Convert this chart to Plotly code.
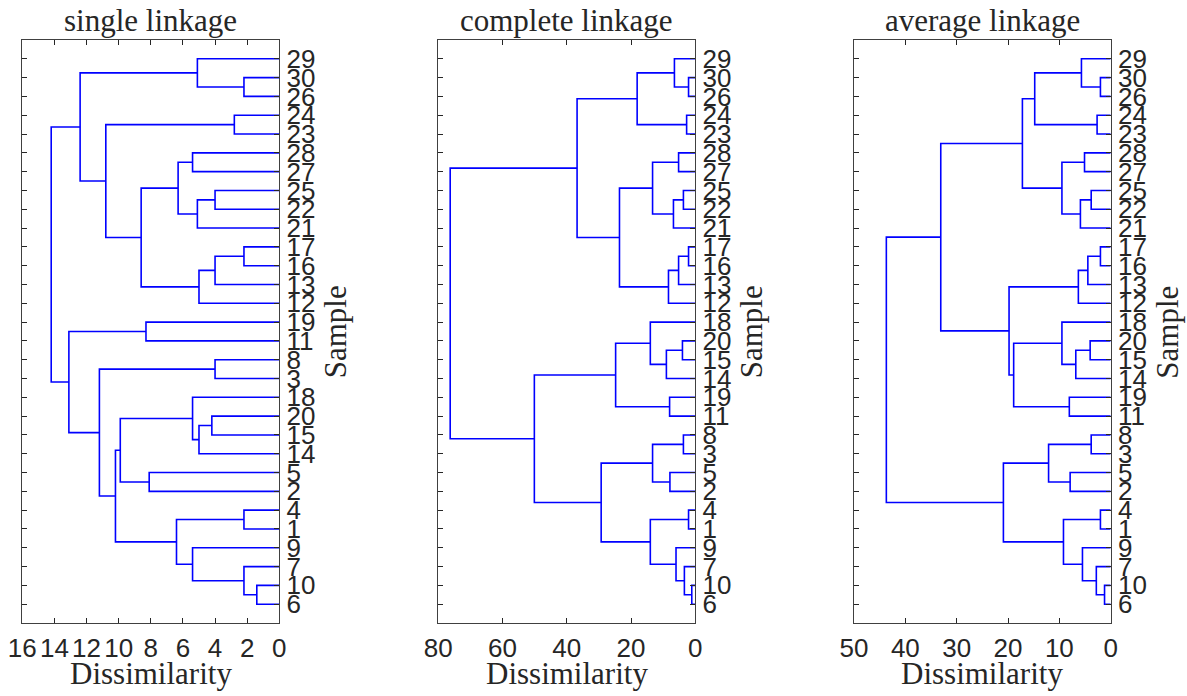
import plotly.graph_objects as go

# ---------------- data ----------------
# Linkage rows (MATLAB convention): ids 1..30 are samples, id 30+r is the cluster formed in row r
single_left = [10, 30, 17, 4, 7, 24, 25, 33, 8, 20, 40, 38, 37, 29, 28, 18, 9, 45, 34, 5, 19, 48, 46, 53, 36, 39, 44, 51, 57]
single_right = [6, 26, 16, 1, 31, 23, 22, 13, 3, 15, 14, 12, 21, 32, 27, 41, 35, 43, 47, 2, 11, 42, 50, 49, 52, 54, 55, 56, 58]
single_height = [1.4, 2.2, 2.2, 2.2, 2.2, 2.8, 4.0, 4.0, 4.0, 4.2, 5.0, 5.0, 5.1, 5.1, 5.4, 5.4, 5.4, 6.3, 6.4, 8.1, 8.3, 8.6, 9.9, 10.2, 10.8, 11.2, 12.4, 13.1, 14.2]
single_order = [29, 30, 26, 24, 23, 28, 27, 25, 22, 21, 17, 16, 13, 12, 19, 11, 8, 3, 18, 20, 15, 14, 5, 2, 4, 1, 9, 7, 10, 6]

complete_left = [10, 30, 17, 4, 24, 7, 25, 8, 20, 28, 33, 9, 29, 37, 5, 19, 41, 39, 40, 38, 18, 34, 43, 49, 51, 50, 53, 55, 57]
complete_right = [6, 26, 16, 1, 23, 31, 22, 3, 15, 27, 13, 36, 32, 21, 2, 11, 12, 14, 44, 45, 48, 42, 35, 47, 46, 52, 54, 56, 58]
complete_height = [1.1, 2.1, 2.1, 2.1, 2.7, 3.4, 3.7, 3.7, 4.0, 5.2, 5.2, 6.0, 6.5, 6.8, 7.9, 8.0, 8.35, 9.0, 13.3, 13.3, 14.0, 14.0, 18.1, 23.6, 24.8, 29.3, 36.8, 50.1, 76.3]
complete_order = [29, 30, 26, 24, 23, 28, 27, 25, 22, 21, 17, 16, 13, 12, 18, 20, 15, 14, 19, 11, 8, 3, 5, 2, 4, 1, 9, 7, 10, 6]

average_left = [10, 30, 17, 4, 24, 7, 25, 8, 20, 33, 28, 9, 29, 37, 40, 39, 5, 19, 34, 41, 18, 38, 43, 53, 51, 45, 52, 54, 58]
average_right = [6, 26, 16, 1, 23, 31, 22, 3, 15, 13, 27, 36, 32, 21, 12, 14, 2, 11, 42, 44, 46, 47, 35, 50, 48, 55, 49, 56, 57]
average_height = [1.2, 2.0, 2.0, 2.0, 2.65, 2.8, 3.8, 3.8, 4.0, 4.45, 5.1, 5.5, 5.7, 5.9, 6.3, 6.8, 7.9, 8.06, 9.2, 9.5, 9.5, 12.1, 14.8, 17.2, 18.9, 19.8, 20.9, 33.1, 43.7]
average_order = [29, 30, 26, 24, 23, 28, 27, 25, 22, 21, 17, 16, 13, 12, 18, 20, 15, 14, 19, 11, 8, 3, 5, 2, 4, 1, 9, 7, 10, 6]

panel_titles = ["single linkage", "complete linkage", "average linkage"]
x_ranges = [16, 80, 50]
x_tick_vals = [list(range(0, 17, 2)), list(range(0, 81, 20)), list(range(0, 51, 10))]
x_label = "Dissimilarity"
y_label = "Sample"

panels = [
    (single_left, single_right, single_height, single_order),
    (complete_left, complete_right, complete_height, complete_order),
    (average_left, average_right, average_height, average_order),
]

# ---------------- layout geometry ----------------
W, H = 1187, 696
x_doms_px = [(22.3, 279.3), (438.3, 695.3), (854.0, 1110.7)]
y_top_px, y_bot_px = 40.0, 623.0
ydom = [1 - y_bot_px / H, 1 - y_top_px / H]

BLUE = "#0000ff"
DARK = "#262626"
FRAME = "#404040"
SANS = "Arial"
SERIF = "Liberation Serif"

fig = go.Figure()


def dendro_lines(left, right, height, order):
    n = len(order)
    pos = {}
    hgt = {}
    for i, s in enumerate(order):
        pos[s] = n - i
        hgt[s] = 0.0
    xs, ys = [], []
    for r, (a, b, h) in enumerate(zip(left, right, height)):
        cid = n + 1 + r
        ya, yb = pos[a], pos[b]
        xs += [hgt[a], h, h, hgt[b], None]
        ys += [ya, ya, yb, yb, None]
        pos[cid] = (ya + yb) / 2
        hgt[cid] = h
    return xs, ys


annotations = []
for k, (left, right, height, order) in enumerate(panels):
    xs, ys = dendro_lines(left, right, height, order)
    ax = "" if k == 0 else str(k + 1)
    fig.add_trace(go.Scatter(x=xs, y=ys, mode="lines", line=dict(color=BLUE, width=1.6),
                             xaxis="x" + ax, yaxis="y" + ax, showlegend=False, hoverinfo="skip"))
    x0, x1 = x_doms_px[k]
    n = len(order)
    fig.layout["xaxis" + ax] = dict(
        domain=[x0 / W, x1 / W], range=[x_ranges[k], 0], anchor="y" + ax,
        tickvals=x_tick_vals[k], ticks="inside", ticklen=5, tickwidth=1, tickcolor=DARK,
        mirror="ticks", showline=True, linecolor=FRAME, linewidth=1.2,
        showgrid=False, zeroline=False, ticklabelstandoff=2, tickangle=0, automargin=False,
        tickfont=dict(family=SANS, size=26, color=DARK),
    )
    fig.layout["yaxis" + ax] = dict(
        domain=ydom, range=[0, n + 1], anchor="x" + ax, side="right",
        tickvals=list(range(1, n + 1)), ticktext=[str(s) for s in order[::-1]],
        ticks="inside", ticklen=5, tickwidth=1, tickcolor=DARK,
        mirror="ticks", showline=True, linecolor=FRAME, linewidth=1.2,
        showgrid=False, zeroline=False, ticklabelstandoff=1, tickangle=0, automargin=False,
        tickfont=dict(family=SANS, size=26, color=DARK),
    )
    cx = (x0 + x1) / 2 / W
    annotations.append(dict(text=panel_titles[k], x=cx, y=1 - 20 / H, xref="paper", yref="paper",
                            showarrow=False, xanchor="center", yanchor="middle",
                            font=dict(family=SERIF, size=31, color=DARK)))
    annotations.append(dict(text=x_label, x=cx, y=1 - 673 / H, xref="paper", yref="paper",
                            showarrow=False, xanchor="center", yanchor="middle",
                            font=dict(family=SERIF, size=31, color=DARK)))
    annotations.append(dict(text=y_label, x=(x1 + 56) / W, y=1 - 332 / H, xref="paper", yref="paper",
                            showarrow=False, xanchor="center", yanchor="middle", textangle=-90,
                            font=dict(family=SERIF, size=31, color=DARK)))

fig.update_layout(
    width=W, height=H, margin=dict(l=0, r=0, t=0, b=0, autoexpand=False),
    paper_bgcolor="white", plot_bgcolor="white",
    annotations=annotations,
)

fig.write_html("out.html")
